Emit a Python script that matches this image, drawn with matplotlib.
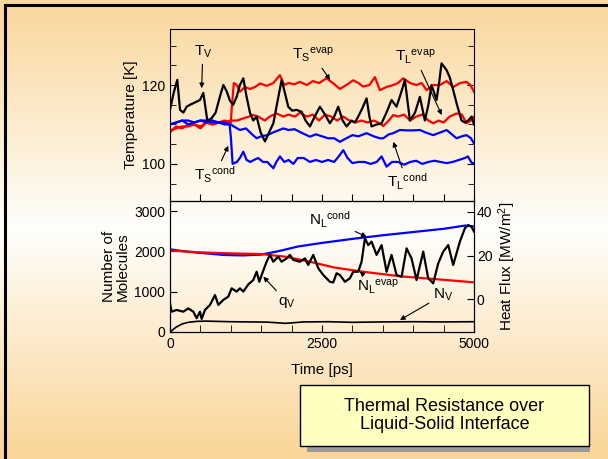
import numpy as np
import matplotlib.pyplot as plt
from matplotlib.patches import Rectangle
from matplotlib.lines import Line2D
from matplotlib.colors import LinearSegmentedColormap

plt.rcParams['font.family'] = ['Liberation Sans', 'DejaVu Sans']
plt.rcParams['mathtext.fontset'] = 'custom'
plt.rcParams['mathtext.rm'] = 'Liberation Sans'
plt.rcParams['mathtext.it'] = 'Liberation Sans:italic'

#----- top panel : temperatures [K]
t_tv = [0, 60, 120, 165, 220, 274, 330, 400, 493, 548, 614, 680, 750, 820, 877, 930, 986, 1040,
        1096, 1150, 1206, 1260, 1315, 1370, 1425, 1490, 1562, 1630, 1700, 1770, 1836, 1890, 1945,
        2010, 2082, 2165, 2230, 2302, 2380, 2466, 2550, 2630, 2700, 2767, 2840, 2904, 2987, 3040,
        3096, 3160, 3233, 3280, 3315, 3400, 3480, 3560, 3644, 3726, 3800, 3863, 3946, 4030, 4110,
        4192, 4250, 4302, 4384, 4430, 4466, 4548, 4600, 4658, 4720, 4795, 4850, 4905, 4960, 5000]
T_v = [113.7, 118, 121.3, 113.7, 113, 114.5, 115, 115.5, 116.2, 118, 111, 111.5, 113, 117, 120,
       118.5, 116, 115, 117, 120, 121.7, 117, 113, 111, 112, 108, 105.7, 108, 110.3, 116, 121.3,
       118, 114.5, 113.5, 113.7, 113.2, 111, 109.5, 112, 114.5, 112.5, 110.3, 112, 114.5, 111,
       109.5, 111, 110.5, 112, 114, 116.6, 112, 109.5, 110, 110.3, 113, 116.2, 114.5, 118, 121.3,
       111, 113, 117, 111, 115, 120, 116.2, 121, 125.5, 123.8, 122, 118.7, 115, 111, 110.5, 111,
       112, 110]

t_tse = [0, 100, 200, 300, 400, 500, 600, 700, 800, 900, 1000, 1020, 1050, 1100, 1150, 1230, 1315,
         1400, 1480, 1590, 1700, 1808, 1880, 1950, 2050, 2137, 2250, 2350, 2450, 2576, 2680, 2795,
         2900, 3014, 3100, 3178, 3280, 3370, 3452, 3560, 3672, 3750, 3836, 3950, 4055, 4140, 4220,
         4330, 4439, 4550, 4658, 4770, 4877, 4940, 5000]
T_se = [108, 109.5, 109, 110, 110, 109.5, 110.5, 110, 110.5, 111, 110.5, 115, 120.5, 120, 118.3,
        119.5, 119, 119.5, 120.4, 119.8, 120.5, 122.5, 120, 120.5, 120.2, 120.8, 120, 121, 120.5,
        121.7, 120.5, 119, 120, 121.2, 120.5, 119.6, 120, 122, 118.7, 119.5, 120, 120.5, 121.7,
        120.5, 120, 120.5, 118.7, 120, 120, 121, 119.5, 120.5, 120.8, 120, 118.3]

t_tle = [0, 100, 200, 300, 400, 500, 600, 700, 800, 900, 1000, 1100, 1200, 1300, 1370, 1450, 1560,
         1640, 1750, 1863, 1950, 2060, 2137, 2250, 2350, 2450, 2550, 2650, 2750, 2850, 2950, 3050,
         3150, 3250, 3350, 3450, 3507, 3600, 3672, 3750, 3850, 3950, 4050, 4150, 4250, 4329, 4420,
         4500, 4600, 4713, 4800, 4877, 4950, 5000]
T_le = [108.5, 109, 109.5, 109.5, 110, 109, 110.5, 110, 110.5, 110.5, 111, 111, 111.5, 112, 112.4,
        112, 111, 112, 112.8, 112, 112.5, 112, 113, 112, 112.5, 111, 112.5, 112, 111, 112, 111,
        110.5, 111, 110.5, 111, 110.3, 109.6, 111, 112.4, 112, 112.5, 111, 112, 112.5, 111, 110.3,
        111, 110.5, 112, 112.8, 112.5, 110.3, 111, 112]

t_tlc = [0, 100, 200, 300, 400, 500, 600, 700, 800, 900, 1000, 1050, 1150, 1250, 1350, 1425, 1500,
         1600, 1700, 1863, 1950, 2050, 2150, 2302, 2400, 2500, 2600, 2700, 2795, 2900, 3000, 3100,
         3233, 3350, 3450, 3507, 3600, 3672, 3780, 3900, 4000, 4110, 4200, 4329, 4450, 4550, 4713,
         4800, 4877, 4950, 5000]
T_lc = [110, 110.5, 111, 111, 110.5, 111, 110.5, 111, 110.5, 110, 110, 109.5, 108.6, 109, 107.5,
        106.5, 107, 107.3, 108, 109, 108.6, 108.8, 108, 106.9, 107.5, 107, 106.5, 106.5, 105.6,
        106.5, 107.3, 107, 107.8, 107, 106.5, 106.5, 107.5, 107.8, 108.6, 108.5, 108.5, 108.6, 108,
        107.3, 108, 108.6, 106.5, 107, 107.3, 106.5, 105.2]

t_tsc = [0, 100, 200, 300, 400, 500, 600, 700, 800, 900, 980, 1000, 1030, 1100, 1150, 1206, 1260,
         1320, 1380, 1450, 1530, 1600, 1699, 1750, 1808, 1880, 1950, 2030, 2100, 2200, 2300, 2400,
         2500, 2600, 2700, 2780, 2850, 2920, 3000, 3100, 3200, 3300, 3400, 3480, 3562, 3650, 3750,
         3850, 3950, 4050, 4150, 4250, 4350, 4450, 4550, 4650, 4750, 4850, 4900, 4960, 5000]
T_sc = [110, 110.5, 111, 110, 110.5, 111, 111, 110.5, 110.5, 110.5, 110, 107, 100, 100.5, 101.5,
        103.1, 101, 100.5, 101, 101.5, 100.5, 100.5, 98.9, 100.5, 101.9, 100.5, 101, 100, 101.5,
        101.5, 100.5, 101, 100.5, 101, 100.5, 102, 103.5, 101.5, 100.2, 100.5, 100.5, 100, 100.5,
        101.9, 99.3, 100.5, 100.5, 99.8, 100.5, 100.8, 100, 100.5, 100.8, 100.5, 100.2, 100.5, 101,
        101.5, 101.9, 100.3, 100.2]

#----- bottom panel : number of molecules and heat flux
t_nlc = [0, 300, 600, 900, 1200, 1500, 1800, 2100, 2500, 3000, 3500, 4000, 4500, 4850, 5000]
N_lc = [2050, 1990, 1950, 1910, 1900, 1920, 2010, 2120, 2210, 2310, 2400, 2480, 2560, 2640, 2620]

t_nle = [0, 500, 1000, 1500, 1700, 1900, 2300, 2700, 3200, 3800, 4300, 5000]
N_le = [2020, 1975, 1950, 1934, 1900, 1868, 1744, 1600, 1490, 1380, 1320, 1232]

t_nv = [0, 50, 100, 200, 300, 450, 600, 800, 1000, 1300, 1600, 1900, 2200, 2600, 3000, 3500,
        4000, 4500, 5000]
N_v = [0, 60, 120, 200, 240, 265, 270, 262, 255, 250, 245, 215, 250, 255, 240, 250, 255, 250, 255]

t_q = [0, 27, 110, 219, 301, 384, 438, 493, 521, 575, 658, 740, 795, 877, 959, 1014, 1096, 1151,
       1206, 1288, 1370, 1425, 1469, 1507, 1589, 1644, 1699, 1781, 1836, 1918, 1973, 2028, 2137,
       2219, 2274, 2356, 2439, 2521, 2630, 2685, 2740, 2795, 2877, 2959, 3014, 3096, 3151, 3206,
       3261, 3315, 3398, 3480, 3562, 3644, 3726, 3809, 3891, 3973, 4055, 4165, 4247, 4329, 4411,
       4494, 4576, 4658, 4768, 4850, 4905, 4959, 5000]
q_v = [-1.9, -5.7, -4.9, -5.7, -4.2, -5.7, -8.7, -5.7, -9.0, -4.9, -2.6, 1.9, -2.6, -0.3, 1.2,
       5.0, 3.5, 5.0, 3.5, 6.8, 8.8, 12.6, 8.0, 11.1, 17.2, 20.3, 17.2, 19.5, 17.2, 18.7, 20.3,
       18.0, 17.2, 18.7, 15.7, 20.3, 14.2, 11.1, 8.0, 7.7, 11.9, 11.1, 8.0, 9.6, 12.6, 12.6, 17.2,
       27.9, 24.8, 26.4, 20.3, 24.8, 12.6, 20.3, 11.1, 10.3, 23.3, 18.7, 8.8, 21.8, 9.6, 7.3, 16.4,
       21.8, 24.8, 15.7, 26.4, 32.5, 34.0, 33.2, 31.0]

#----- figure
fig = plt.figure(figsize=(6.08, 4.59), dpi=100)

# slide background
bg = fig.add_axes([0, 0, 1, 1], zorder=-10)
cmap = LinearSegmentedColormap.from_list(
    'slide', [(0.0, '#fad79c'), (0.5, '#fffefb'), (1.0, '#fad597')])
grad = np.concatenate([np.linspace(0, 0.5, 230), np.linspace(0.5, 1, 229)])[:, None]
bg.imshow(grad, aspect='auto', cmap=cmap, vmin=0, vmax=1, extent=[0, 1, 0, 1])
bg.axis('off')
fig.add_artist(Line2D([0.009, 1.0], [0.989, 0.989], color='k', lw=2.2))
fig.add_artist(Line2D([0.009, 0.009], [0.0, 0.989], color='k', lw=2.2))

ax1 = fig.add_axes([0.2796, 0.5621, 0.5, 0.3747])
ax2 = fig.add_axes([0.2796, 0.2767, 0.5, 0.2854])
ax3 = ax2.twinx()
for a in (ax1, ax2, ax3):
    a.patch.set_alpha(0)

lw = 1.6
ax1.plot(t_tse, T_se, color='#ff0000', lw=lw)
ax1.plot(t_tle, T_le, color='#ff0000', lw=lw)
ax1.plot(t_tlc, T_lc, color='#0000ff', lw=lw)
ax1.plot(t_tsc, T_sc, color='#0000ff', lw=lw)
ax1.plot(t_tv, T_v, color='k', lw=lw)
ax1.set_xlim(0, 5000)
ax1.set_ylim(90.6, 134.2)
ax1.set_yticks([100, 120])
ax1.set_yticks([95, 105, 110, 115, 125, 130], minor=True)
ax1.set_xticks(np.arange(0, 5001, 500))
ax1.tick_params(direction='in', labelbottom=False, right=True, length=5, labelsize=10)
ax1.tick_params(which='minor', direction='in', right=True, length=4)
ax1.set_ylabel('Temperature [K]', fontsize=11, labelpad=3)

ax2.plot(t_nlc, N_lc, color='#0000ff', lw=lw)
ax2.plot(t_nle, N_le, color='#ff0000', lw=lw)
ax2.plot(t_nv, N_v, color='k', lw=1.2)
ax3.plot(t_q, q_v, color='k', lw=lw)
ax2.set_xlim(0, 5000)
ax2.set_ylim(0, 3250)
ax3.set_ylim(-15, 45)
ax2.set_xticks([0, 2500, 5000])
ax2.set_xticks(np.arange(0, 5001, 500), minor=True)
ax2.set_yticks([0, 1000, 2000, 3000])
ax3.set_yticks([0, 20, 40])
ax2.tick_params(direction='in', length=5, labelsize=10)
ax2.tick_params(which='minor', direction='in', length=5)
ax3.tick_params(direction='in', length=5, labelsize=10, pad=2)
ax2.set_xlabel('Time [ps]', fontsize=11, labelpad=9)
ax2.set_ylabel('Number of\nMolecules', fontsize=11, labelpad=3, linespacing=0.95)
ax3.set_ylabel(r'Heat Flux [MW/m$^\mathregular{2}$]', fontsize=11, labelpad=3)

arr = dict(arrowstyle='-|>', color='k', lw=0.8, mutation_scale=7, shrinkA=1, shrinkB=0)
fs = 11
ax1.annotate(r'$\mathregular{T_V}$', xy=(521, 119.2), xytext=(540, 128.4), fontsize=fs,
             ha='center', va='center', arrowprops=arr)
ax1.annotate(r'$\mathregular{T_S{}^{evap}}$', xy=(2632, 121.3), xytext=(2352, 127.6), fontsize=fs,
             ha='center', va='center', arrowprops=arr)
ax1.annotate(r'$\mathregular{T_L{}^{evap}}$', xy=(4469, 112.4), xytext=(4030, 127.1), fontsize=fs,
             ha='center', va='center', arrowprops=arr)
ax1.annotate(r'$\mathregular{T_S{}^{cond}}$', xy=(959, 104.6), xytext=(740, 97.2), fontsize=fs,
             ha='center', va='center', arrowprops=arr)
ax1.annotate(r'$\mathregular{T_L{}^{cond}}$', xy=(3673, 105.6), xytext=(3898, 95.4), fontsize=fs,
             ha='center', va='center', arrowprops=arr)

ax2.annotate(r'$\mathregular{N_L{}^{cond}}$', xy=(3235, 2363), xytext=(2632, 2778), fontsize=fs,
             ha='center', va='center', arrowprops=arr)
ax2.annotate(r'$\mathregular{N_L{}^{evap}}$', xy=(3120, 1500), xytext=(3421, 1116), fontsize=fs,
             ha='center', va='center', arrowprops=arr)
ax2.annotate(r'$\mathregular{q_V}$', xy=(1535, 1372), xytext=(1924, 744), fontsize=fs,
             ha='center', va='center', arrowprops=arr)
ax2.annotate(r'$\mathregular{N_V}$', xy=(3783, 298), xytext=(4490, 918), fontsize=fs,
             ha='center', va='center', arrowprops=arr)

# title box with shadow
W, H = 608.0, 459.0
fig.add_artist(Rectangle((307 / W, 1 - 452 / H), 283 / W, 61 / H, transform=fig.transFigure,
                         facecolor='#999999', edgecolor='none'))
fig.add_artist(Rectangle((300 / W, 1 - 446 / H), 289 / W, 61 / H, transform=fig.transFigure,
                         facecolor='#ffffc0', edgecolor='k', lw=1.0))
fig.text(444.5 / W, 1 - 415.5 / H, 'Thermal Resistance over\nLiquid-Solid Interface',
         fontsize=13, ha='center', va='center', linespacing=1.15)

fig.savefig('out.png', dpi=100)
